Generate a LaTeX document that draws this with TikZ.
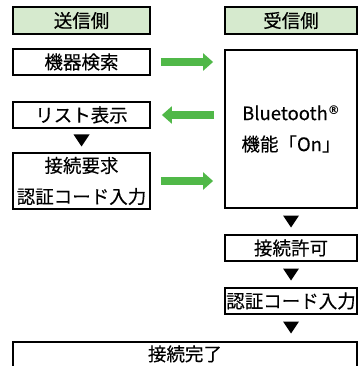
\documentclass[tikz,border=0pt]{standalone}
\usepackage{fontspec}
\setmainfont[FakeBold=0.3,AutoFakeBold=0.3]{Noto Sans CJK JP}
\newfontfamily\regfont{DejaVu Sans}
\usetikzlibrary{arrows.meta}
\definecolor{hdrgreen}{HTML}{D6EACE}
\definecolor{arrgreen}{HTML}{50B848}
\tikzset{
  box/.style={draw=black, line width=1.8pt, fill=white, inner sep=0pt, align=center,
    font=\fontsize{18.5}{31}\selectfont\bfseries},
  hdr/.style={box, fill=hdrgreen, minimum height=27pt},
  garrow/.style={draw=arrgreen, line width=8pt, -{Triangle[width=17pt,length=10pt]},
    shorten <=10pt, shorten >=11pt},
}
\newcommand{\downtri}[1]{\fill (#1) ++(-8pt,6pt) -- ++(16pt,0) -- ++(-8pt,-12pt) -- cycle;}
\newcommand{\regmark}{{\regfont\fontsize{12}{12}\selectfont\raisebox{6pt}{®}}}
\begin{document}
\begin{tikzpicture}
\path[use as bounding box] (0,0) rectangle (358pt,-366pt);
\clip (0,0) rectangle (358pt,-366pt);
% headers
\node[hdr, minimum width=137pt] (hs) at (81.5pt,-20.5pt) {送信側};
\node[hdr, minimum width=132pt] (hr) at (291pt,-20.5pt) {受信側};
% left column
\node[box, minimum width=137pt, minimum height=26pt] (kiki) at (81.5pt,-62pt) {機器検索};
\node[box, minimum width=137pt, minimum height=26pt] (list) at (81.5pt,-115pt) {リスト表示};
\node[box, minimum width=137pt, minimum height=56pt] (req) at (81.5pt,-181pt) {接続要求\\認証コード入力};
% right column
\node[box, minimum width=132pt, minimum height=158pt] (bt) at (291pt,-129pt) {Bluetooth\regmark\\機能「On」};
\node[box, minimum width=132pt, minimum height=26pt] (perm) at (291pt,-248pt) {接続許可};
\node[box, minimum width=132pt, minimum height=26pt] (auth) at (291pt,-301pt) {認証コード入力};
% bottom (extends below the visible area)
\node[box, anchor=north, minimum width=344pt, inner ysep=5pt, text height=14pt, text depth=20pt] (done) at (185pt,-341pt) {接続完了};
% triangles
\coordinate (t1) at (81.5pt,-140.5pt);
\coordinate (t2) at (291pt,-221.5pt);
\coordinate (t3) at (291pt,-274.5pt);
\coordinate (t4) at (291pt,-327.5pt);
\downtri{t1}
\downtri{t2}
\downtri{t3}
\downtri{t4}
% green arrows
\draw[garrow] (kiki.east) -- (kiki.east -| bt.west);
\draw[garrow] (list.east -| bt.west) -- (list.east);
\draw[garrow] (req.east) -- (req.east -| bt.west);
\end{tikzpicture}
\end{document}
